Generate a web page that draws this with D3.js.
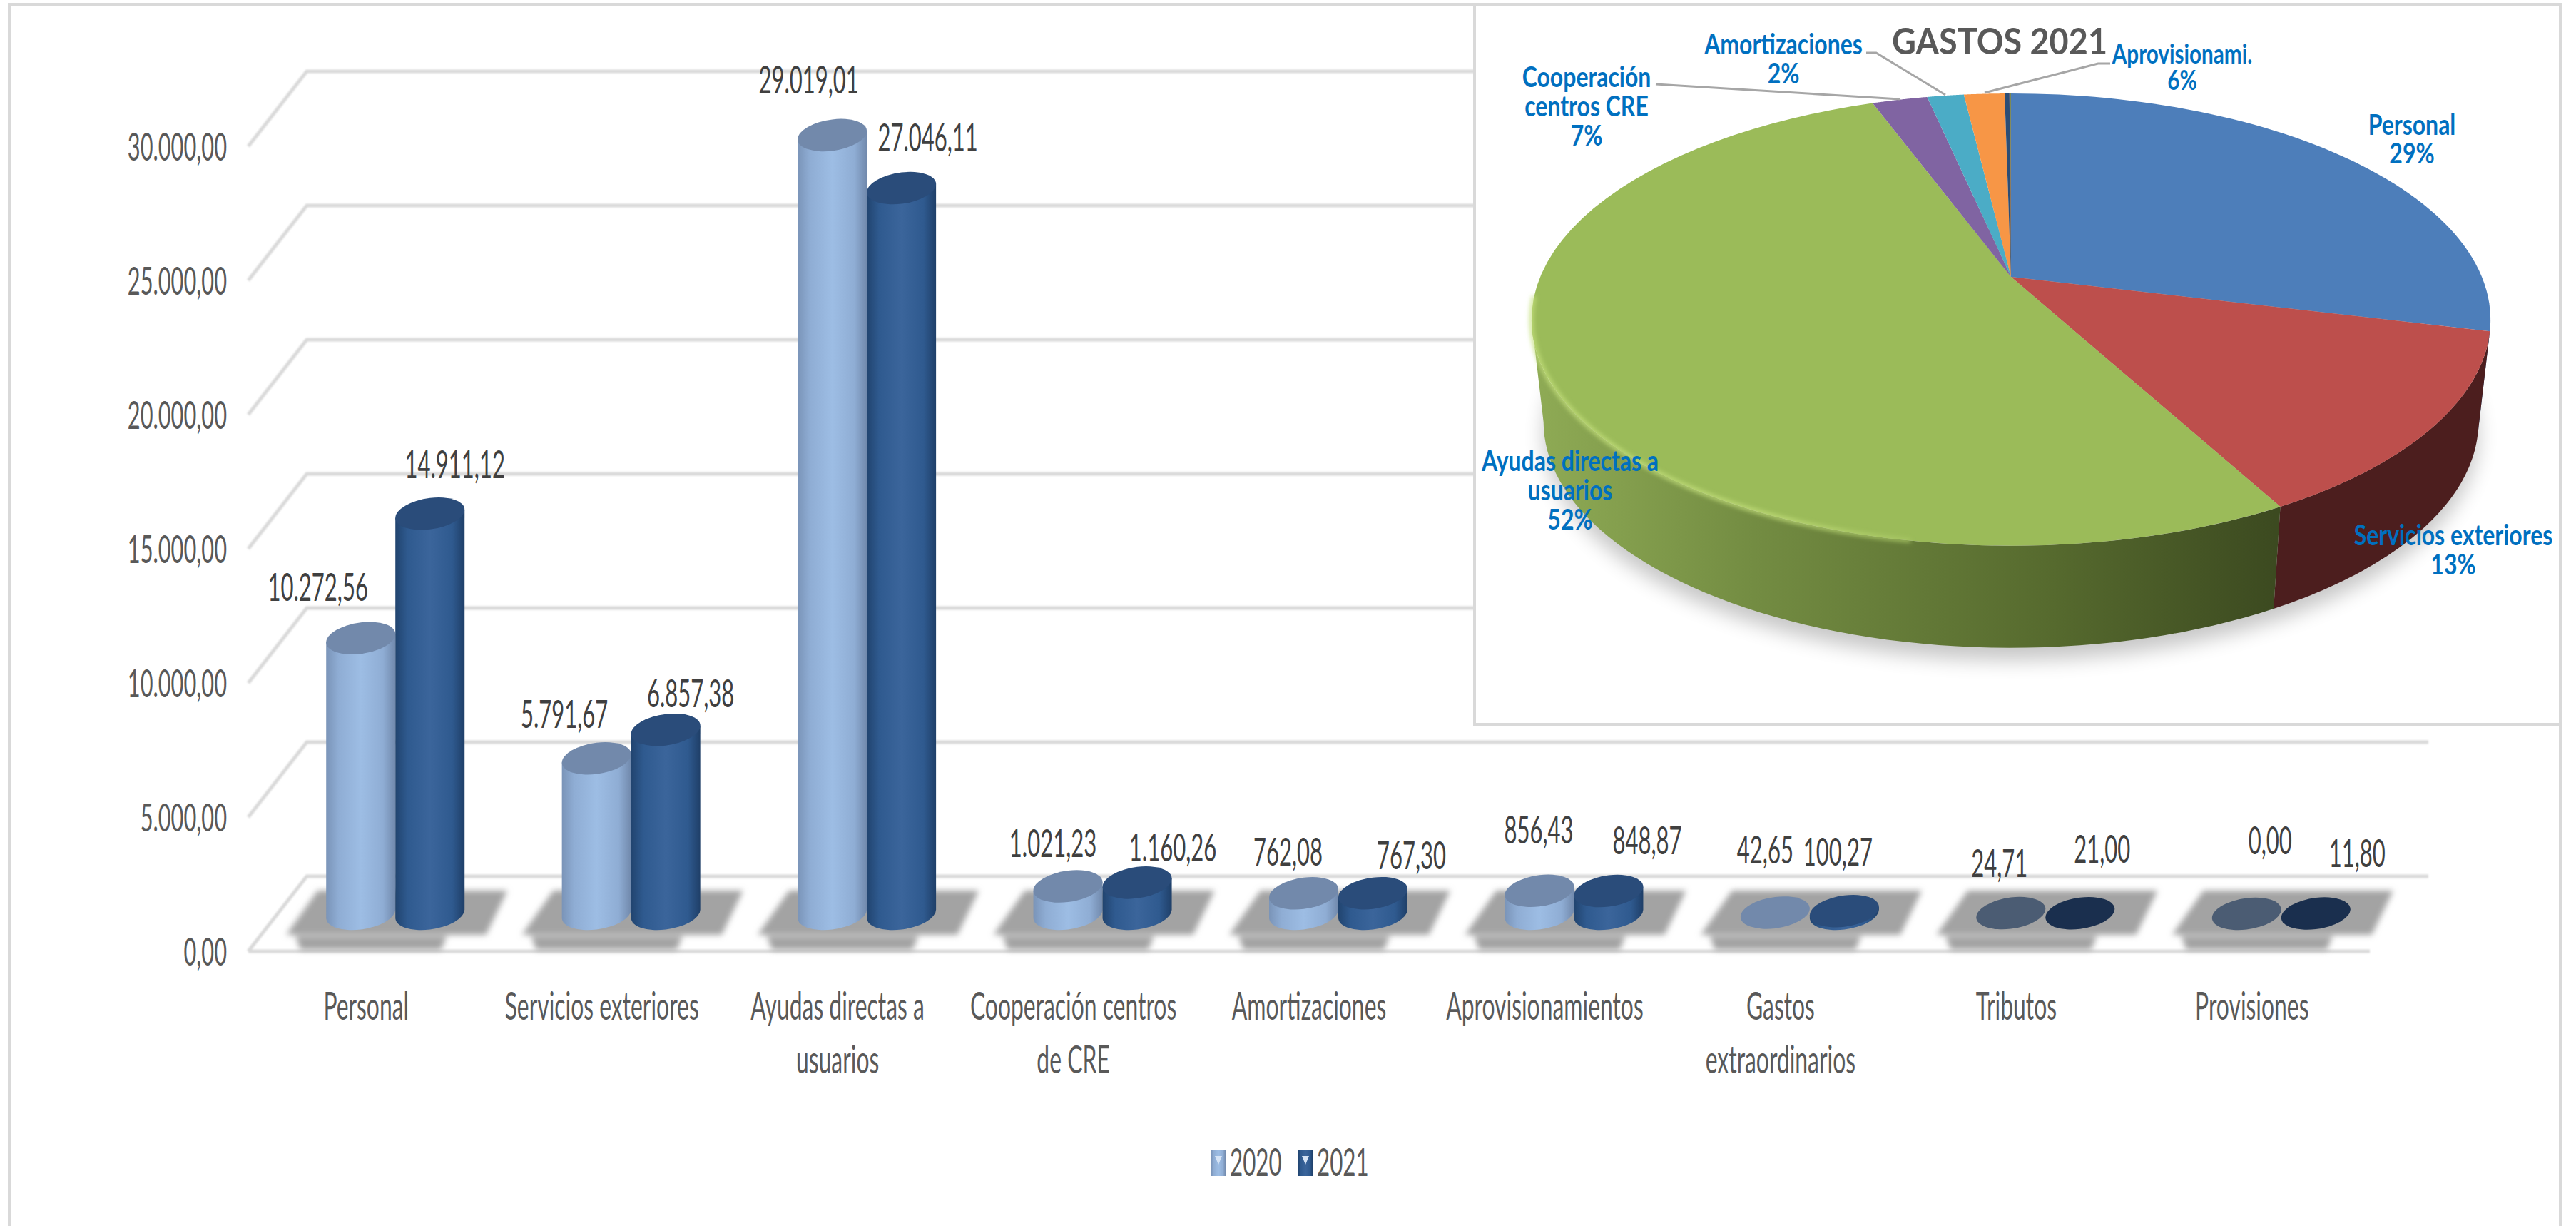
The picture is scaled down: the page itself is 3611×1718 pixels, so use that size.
<!DOCTYPE html>
<html>
<head>
<meta charset="utf-8">
<script src="https://d3js.org/d3.v7.min.js"></script>
<style>
  html, body { margin: 0; background: #fff; }
  svg { display: block; }
  text { font-family: Lato, "Open Sans", sans-serif; }
</style>
</head>
<body>
<script>
const categories = [["Personal"], ["Servicios exteriores"], ["Ayudas directas a", "usuarios"], ["Cooperación centros", "de CRE"],
  ["Amortizaciones"], ["Aprovisionamientos"], ["Gastos", "extraordinarios"], ["Tributos"], ["Provisiones"]];
const values2020 = [10272.56, 5791.67, 29019.01, 1021.23, 762.08, 856.43, 42.65, 24.71, 0];
const values2021 = [14911.12, 6857.38, 27046.11, 1160.26, 767.30, 848.87, 100.27, 21.00, 11.80];
const yTicks = [0, 5000, 10000, 15000, 20000, 25000, 30000];
const pieNames = [["Personal"], ["Servicios exteriores"], ["Ayudas directas a", "usuarios"], ["Cooperación", "centros CRE"], ["Amortizaciones"], ["Aprovisionami."]];
const piePercents = ["29%", "13%", "52%", "7%", "2%", "6%"];

// the data labels were dragged by hand in the original, so they sit at an offset from each bar top
const labelShift2020 = [[-60,-52],[-45,-43],[-33,-58],[-21,-41],[-22,-39],[-1,-66],[-14,-69],[-16,-51],[33,-84]];
const labelShift2021 = [[35,-50],[35,-32],[37,-52],[50,-30],[54,-34],[54,-52],[-9,-64],[31,-71],[58,-65]];

const width = 3611, height = 1718;
const depthX = 82, depthY = 105;
const barR = 48.5, capRy = 22, tilt = 0.12;
const fmt = d3.formatLocale({decimal: ",", thousands: ".", grouping: [3]}).format(",.2f");

const svg = d3.select("body").append("svg").attr("width", width).attr("height", height);
const defs = svg.append("defs");

function blur(id, dev) {
  defs.append("filter").attr("id", id).attr("x", "-20%").attr("y", "-20%").attr("width", "140%").attr("height", "140%")
    .append("feGaussianBlur").attr("stdDeviation", dev);
}
blur("soft1", 1.2); blur("soft5", 4.5); blur("soft14", 14); blur("soft3", 3);

function gradient(id, stops, attrs) {
  const g = defs.append("linearGradient").attr("id", id);
  Object.entries(attrs || {}).forEach(([k, v]) => g.attr(k, v));
  stops.forEach(s => g.append("stop").attr("offset", s[0]).attr("stop-color", s[1]));
}
gradient("body2020", [[0, "#7a94b8"], [.18, "#8fadd4"], [.5, "#9dbde4"], [.82, "#8fadd4"], [1, "#7189ac"]]);
gradient("body2021", [[0, "#21446f"], [.18, "#2f5a8f"], [.5, "#3b659b"], [.82, "#2f5a8f"], [1, "#1f3f68"]]);

// frame
svg.append("path").attr("d", `M13,${height} V6 H3589 V${height}`).attr("fill", "none").attr("stroke", "#d9d9d9").attr("stroke-width", 4);

const xFront = d3.scaleBand().domain(d3.range(categories.length)).range([348, 3322]);
const xMid = d3.scaleBand().domain(d3.range(categories.length)).range([348 + depthX / 2, 3322 + depthX / 2]);
const y = d3.scaleLinear().domain([0, 30000]).range([1333, 205]);

// grid: one bent line per tick, running up the side wall then along the back
const grid = svg.append("g").attr("fill", "none").attr("stroke", "#d9d9d9").attr("stroke-width", 5).attr("filter", "url(#soft1)");
grid.selectAll("path").data(yTicks).join("path")
  .attr("d", d => `M${xFront.range()[0]},${y(d)} L${xFront.range()[0] + depthX},${y(d) - depthY} H${xFront.range()[1] + depthX + 0}`);
grid.append("path").attr("d", `M${xFront.range()[0]},${y(0)} H${xFront.range()[1]}`);

// y axis
const axis = svg.append("g").attr("transform", "translate(318,0)")
  .call(d3.axisLeft(y).tickValues(yTicks).tickFormat(fmt).tickSize(0).tickPadding(0));
axis.select(".domain").remove();
axis.selectAll("text").attr("font-size", 54).attr("fill", "#595959").attr("x", 0).attr("dy", "0.36em")
  .attr("font-family", "Lato").attr("transform", "scale(0.57,1)");

// floor shadows
const shadows = svg.append("g").attr("fill", "#a3a3a3").attr("filter", "url(#soft5)");
const shadowLine = d3.line();
categories.forEach((c, i) => {
  const cx = xMid(i) + xMid.bandwidth() / 2;
  shadows.append("path").attr("d", shadowLine([[cx - 109, 1248], [cx + 157, 1248], [cx + 127, 1310], [cx - 153, 1310]]) + "Z");
  shadows.append("path").attr("d", shadowLine([[cx - 140, 1312], [cx + 72, 1312], [cx + 64, 1331], [cx - 133, 1331]]) + "Z");
});

// cylinders
const yBar = v => y(v) - depthY / 2;
const series = [
  {values: values2020, off: -barR, fill: "url(#body2020)", cap: "#7289ab", capLow: "#4b5c73", rim: "#a9c6ea", shift: labelShift2020},
  {values: values2021, off: barR, fill: "url(#body2021)", cap: "#2a4c7a", capLow: "#1a2f4e", rim: "#4a78b0", shift: labelShift2021}
];
const bars = svg.append("g");
series.forEach(s => {
  const g = bars.selectAll(null).data(s.values).join("g")
    .attr("transform", (d, i) => `matrix(1,${-tilt},0,1,${xMid(i) + xMid.bandwidth() / 2 + s.off},0)`);
  g.filter(d => d > 60).append("path")
    .attr("fill", s.fill)
    .attr("d", d => `M${-barR},${yBar(d)} V${yBar(0)} A${barR},${capRy} 0 0 0 ${barR},${yBar(0)} V${yBar(d)} Z`);
  g.filter(d => d > 60).append("path")
    .attr("fill", "none").attr("stroke", s.rim).attr("stroke-width", 3).attr("filter", "url(#soft1)")
    .attr("d", d => `M${-barR + 6},${yBar(d) + 4} A${barR},${capRy} 0 0 0 ${barR - 6},${yBar(d) + 4}`);
  g.append("ellipse")
    .attr("rx", barR).attr("ry", capRy).attr("cy", d => yBar(d))
    .attr("fill", d => d < 30 ? s.capLow : s.cap);
});

// data labels
series.forEach(s => {
  svg.append("g").selectAll("text").data(s.values).join("text")
    .attr("text-anchor", "middle").attr("font-size", 54).attr("fill", "#404040")
    .attr("transform", (d, i) => `translate(${xMid(i) + xMid.bandwidth() / 2 + s.off + s.shift[i][0]},${yBar(d) + s.shift[i][1]}) scale(0.575,1)`)
    .text(d => fmt(d));
});

// category labels
categories.forEach((c, i) => {
  c.forEach((line, k) => {
    svg.append("text").attr("text-anchor", "middle").attr("font-size", 54).attr("fill", "#595959")
      .attr("transform", `translate(${xFront(i) + xFront.bandwidth() / 2},${1429 + k * 75}) scale(0.59,1)`)
      .text(line);
  });
});

// legend
[["2020", 1698, "url(#body2020)"], ["2021", 1820, "url(#body2021)"]].forEach(l => {
  svg.append("rect").attr("x", l[1]).attr("y", 1612).attr("width", 20).attr("height", 36).attr("fill", l[2]);
  svg.append("path").attr("d", `M${l[1] + 5},1620 h10 l-5,12 Z`).attr("fill", "#d5e3f5");
  svg.append("text").attr("font-size", 54).attr("fill", "#595959")
    .attr("transform", `translate(${l[1] + 26},1648) scale(0.58,1)`).text(l[0]);
});

// ---- pie panel ----
svg.append("rect").attr("x", 2067).attr("y", 6).attr("width", 1522).attr("height", 1009)
  .attr("fill", "#fff").attr("stroke", "#d9d9d9").attr("stroke-width", 4);

// perspective disc: a circle seen at an angle, so the apex is above the ellipse centre
const pieCx = 2819, pieCy = 388, pieR = 660, persp = -0.189, pieA = 232.2, wallDepth = 143, wallShrink = 0.975;
function disc(theta, low) {
  const u = Math.sin(theta), v = -Math.cos(theta), w = 1 + persp * v;
  const px = pieR * u / w, py = (pieA * v + pieCy) / w;
  return low ? [pieCx + px * wallShrink, py + wallDepth] : [pieCx + px, py];
}
function sample(a0, a1) {
  return d3.range(0, 61).map(k => a0 + (a1 - a0) * k / 60);
}
const slices = d3.pie().sort(null).value(d => d)(values2021);
const sliceColors = ["#4d7eba", "#bd4f4c", "#9bbb59", "#8064a2", "#4bacc6", "#f79646", "#2c4d75", "#772c2a", "#5f7530"];
const line = d3.line();

// drop shadow under the disc
const pie = svg.append("g");
pie.append("path").attr("fill", "#000").attr("opacity", 0.22).attr("filter", "url(#soft14)")
  .attr("transform", "translate(0,18)")
  .attr("d", line(sample(0, 2 * Math.PI).map(t => disc(t, true))) + "Z");

// outer wall, only the front part shows
gradient("wallGreen", [[0, "#8fab55"], [.3, "#738c42"], [.7, "#566a2e"], [1, "#3c4a20"]],
  {gradientUnits: "userSpaceOnUse", x1: 2147, x2: 3190, y1: 0, y2: 0});
gradient("rimGreen", [[0, "#c4e07c"], [.55, "#c4e07c"], [1, "#9bbb59"]],
  {gradientUnits: "userSpaceOnUse", x1: 2147, x2: 2780, y1: 0, y2: 0});
const wallFrom = 101 * Math.PI / 180, wallTo = 259 * Math.PI / 180;
const wallColors = ["#2e5a8c", "#4c1e1e", "url(#wallGreen)"];
slices.slice(0, 3).forEach((s, i) => {
  const a0 = Math.max(s.startAngle, wallFrom), a1 = Math.min(s.endAngle, wallTo);
  if (a1 <= a0) return;
  const ts = sample(a0, a1);
  pie.append("path").attr("fill", wallColors[i])
    .attr("d", line(ts.map(t => disc(t, false)).concat(ts.slice().reverse().map(t => disc(t, true)))) + "Z");
});

// top face
pie.selectAll("path.top").data(slices).join("path").attr("class", "top")
  .attr("fill", (d, i) => sliceColors[i])
  .attr("d", d => line([[pieCx, pieCy]].concat(sample(d.startAngle, d.endAngle).map(t => disc(t, false)))) + "Z");

// bevel highlight on the green rim
pie.append("path").attr("fill", "none").attr("stroke", "url(#rimGreen)").attr("stroke-width", 5).attr("filter", "url(#soft3)")
  .attr("d", line(sample(190 * Math.PI / 180, 265 * Math.PI / 180).map(t => disc(t, false))));

// title
svg.append("text").attr("text-anchor", "middle").attr("font-size", 52).attr("font-weight", 700).attr("fill", "#595959")
  .attr("transform", "translate(2803,76) scale(0.9,1)").text("GASTOS 2021");

// leader lines
const leaders = [[[2321, 118], [2663, 139]], [[2616, 74], [2630, 74], [2727, 133]], [[2958, 89], [2941, 89], [2782, 130]]];
svg.append("g").attr("fill", "none").attr("stroke", "#a6a6a6").attr("stroke-width", 3)
  .selectAll("path").data(leaders).join("path").attr("d", d => line(d));

// pie labels: x, first baseline, line step, font size
const pieLabelAt = [[3381, 189, 40, 41], [3439, 764, 41, 41], [2201, 660, 41, 41], [2224, 122, 41, 41], [2500, 76, 41, 41], [3059, 89, 37, 38]];
pieNames.forEach((names, i) => {
  const p = pieLabelAt[i];
  names.concat(piePercents[i]).forEach((t, k) => {
    svg.append("text").attr("text-anchor", "middle").attr("font-size", p[3]).attr("font-weight", 700).attr("fill", "#0070c0")
      .attr("transform", `translate(${p[0]},${p[1] + k * p[2]}) scale(0.78,1)`).text(t);
  });
});
</script>
</body>
</html>
